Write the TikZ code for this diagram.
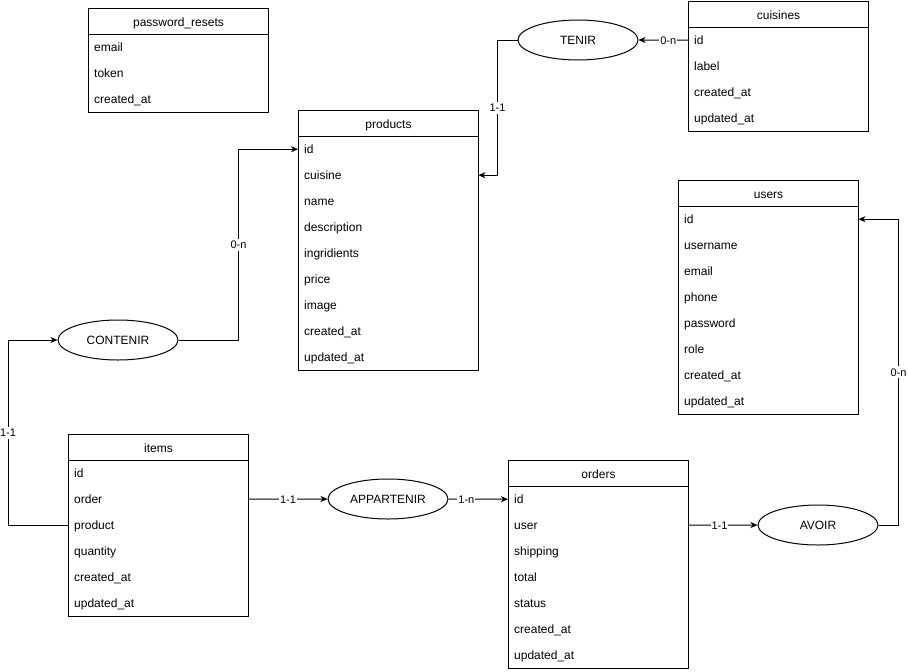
\documentclass[tikz,border=0pt]{standalone}
\usepackage{fontspec}
\setmainfont{Liberation Sans}
\usetikzlibrary{arrows.meta,shapes.geometric}
\tikzset{
  rowtext/.style={text width=168pt, align=left, inner xsep=6pt, inner ysep=0pt,
    text height=10.5pt, text depth=1.5pt,
    minimum height=26pt, font=\fontsize{12}{14}\selectfont, anchor=north west},
  headbox/.style={draw, line width=1pt, minimum width=180pt, minimum height=26pt,
    text height=10.5pt, text depth=1.5pt,
    inner sep=0pt, font=\fontsize{12}{14}\selectfont, anchor=north west},
  framebox/.style={draw, line width=1pt},
  rel/.style={ellipse, draw, line width=1pt, minimum width=120pt, minimum height=40pt,
    text height=10.5pt, text depth=1.5pt,
    inner sep=0pt, font=\fontsize{12}{14}\selectfont},
  link/.style={draw, line width=1pt, -{Stealth[length=7pt,width=6pt,inset=2pt]}},
  card/.style={fill=white, inner sep=1pt, text height=9pt, text depth=1pt,
    font=\fontsize{11}{13}\selectfont},
}
\newcommand{\dbtable}[6]{%
  \node[headbox] (#1) at (#2,#3) {#4};
  \foreach \r [count=\i from 1] in {#5} {
    \node[rowtext] (#1-\i) at ({#2},{#3+26*\i}) {\r};
  }
  \draw[framebox] (#2,#3) rectangle ++(180,{26+26*#6});
}
\begin{document}
\begin{tikzpicture}[x=1pt,y=-1pt]
\useasboundingbox (0,0) rectangle (908,672);

\dbtable{pwd}{88}{8}{password\_resets}{email,token,created\_at}{3}
\dbtable{products}{298}{110}{products}{id,cuisine,name,description,ingridients,price,image,created\_at,updated\_at}{9}
\dbtable{cuisines}{688}{1}{cuisines}{id,label,created\_at,updated\_at}{4}
\dbtable{users}{678}{180}{users}{id,username,email,phone,password,role,created\_at,updated\_at}{8}
\dbtable{items}{68}{434}{items}{id,order,product,quantity,created\_at,updated\_at}{6}
\dbtable{orders}{508}{460}{orders}{id,user,shipping,total,status,created\_at,updated\_at}{7}

\node[rel] (tenir) at (578,40) {TENIR};
\node[rel] (contenir) at (118,340) {CONTENIR};
\node[rel] (appartenir) at (388,499) {APPARTENIR};
\node[rel] (avoir) at (818,525) {AVOIR};

\draw[link] (cuisines-1.west) -- (tenir.east) node[card,pos=0.4] {0-n};
\draw[link] (tenir.west) -- ++(-20,0) |- (products-2.east) node[card,pos=0.25] {1-1};
\draw[link] (contenir.east) -- ++(60,0) |- (products-1.west) node[card,pos=0.25] {0-n};
\draw[link] (items-3.west) -- ++(-60,0) |- (contenir.west) node[card,pos=0.25] {1-1};
\draw[link] (items-2.east) -- (appartenir.west) node[card,midway] {1-1};
\draw[link] (appartenir.east) -- (orders-1.west) node[card,pos=0.3] {1-n};
\draw[link] (orders-2.east) -- (avoir.west) node[card,pos=0.45] {1-1};
\draw[link] (avoir.east) -- ++(20,0) |- (users-1.east) node[card,pos=0.25] {0-n};
\end{tikzpicture}
\end{document}
